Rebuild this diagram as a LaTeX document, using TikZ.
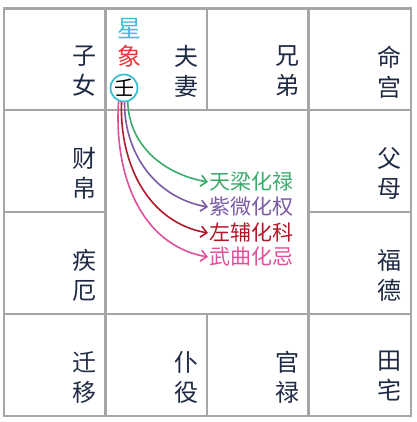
\documentclass[tikz,border=0pt]{standalone}
\usepackage{fontspec}
\newfontfamily\cjk{Noto Sans CJK SC}
\usetikzlibrary{arrows.meta}
\definecolor{grid}{HTML}{A6A6A6}
\definecolor{ink}{HTML}{1F2A44}
\definecolor{sky}{HTML}{3CBFD6}
\definecolor{xred}{HTML}{E0393A}
\definecolor{lu}{HTML}{3BAA6A}
\definecolor{quan}{HTML}{7B5AA6}
\definecolor{ke}{HTML}{B0182A}
\definecolor{ji}{HTML}{E0509A}

\begin{document}
\begin{tikzpicture}[x=1pt,y=1pt,>={Straight Barb[length=6pt,width=11pt]},
line/.style={draw=grid,line width=2.6pt},
gong/.style={anchor=north east,inner sep=0pt,align=center,text=ink,font=\cjk\fontsize{24}{30}\selectfont},
xiang/.style={inner sep=0pt,font=\cjk\fontsize{24}{24}\selectfont},
hua/.style={anchor=west,inner sep=1.5pt,font=\cjk\fontsize{21}{21}\selectfont},
sihua/.style={->,line width=1.6pt}]
\useasboundingbox (0,0) rectangle (416,422);
% grid
\draw[line] (4,6) rectangle (411,413.5);
\draw[line] (4,312)--(411,312);
\draw[line] (4,108)--(411,108);
\draw[line] (4,210)--(105.5,210);
\draw[line] (308.5,210)--(411,210);
\draw[line] (105.5,6)--(105.5,413.5);
\draw[line] (308.5,6)--(308.5,413.5);
\draw[line] (207,312)--(207,413.5);
\draw[line] (207,6)--(207,108);
% palaces
\node[gong] (ziNv) at (97,376.5) {子\\女};
\node[gong] (fuQi) at (199,376.5) {夫\\妻};
\node[gong] (xiongDi) at (300,376.5) {兄\\弟};
\node[gong] (mingGong) at (402,376.5) {命\\宫};
\node[gong] (caiBo) at (97,275) {财\\帛};
\node[gong] (fuMu) at (402,275) {父\\母};
\node[gong] (jiE) at (97,173) {疾\\厄};
\node[gong] (fuDe) at (402,173) {福\\德};
\node[gong] (qianYi) at (97,71) {迁\\移};
\node[gong] (puYi) at (199,71) {仆\\役};
\node[gong] (guanLu) at (300,71) {官\\禄};
\node[gong] (tianZhai) at (402,71) {田\\宅};
% stem and the four transformations
\node[xiang,text=sky] (xing) at (129,393) {星};
\node[xiang,text=xred] (xiangZi) at (129,366) {象};
\node[circle,draw=sky,line width=1.8pt,minimum size=27pt,inner sep=0pt,font=\cjk\fontsize{20}{20}\selectfont] (ren) at (124,334) {壬};
\node[hua,text=lu] (huaLu) at (208,240) {天梁化禄};
\node[hua,text=quan] (huaQuan) at (208,215) {紫微化权};
\node[hua,text=ke] (huaKe) at (208,189) {左辅化科};
\node[hua,text=ji] (huaJi) at (208,165) {武曲化忌};
\draw[sihua,lu] (ren.-75) to[out=-88,in=170] (huaLu.west);
\draw[sihua,quan] (ren.-88) to[out=-90,in=170] (huaQuan.west);
\draw[sihua,ke] (ren.-100) to[out=-92,in=170] (huaKe.west);
\draw[sihua,ji] (ren.-112) to[out=-94,in=170] (huaJi.west);
\end{tikzpicture}
\end{document}
